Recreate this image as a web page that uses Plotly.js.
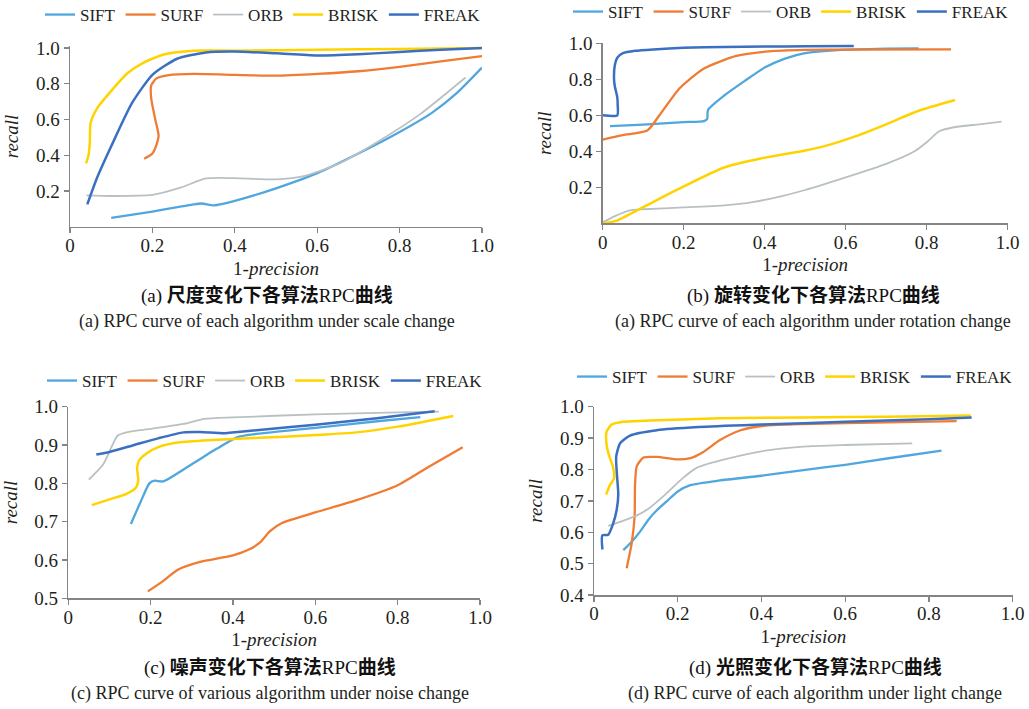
<!DOCTYPE html>
<html>
<head>
<meta charset="utf-8">
<script src="https://cdn.plot.ly/plotly-3.0.1.min.js"></script>
<style>html,body{margin:0;padding:0;background:#fff;overflow:hidden;}#chart{width:1029px;height:709px;}</style>
</head>
<body>
<div id="chart"></div>
<script>
// ---------- Data ----------
const algorithms = ['SIFT', 'SURF', 'ORB', 'BRISK', 'FREAK'];

// (a) scale change
const a_SIFT_x  = [0.10,0.20,0.30,0.32,0.35,0.40,0.50,0.60,0.70,0.80,0.88,0.94,1.00];
const a_SIFT_y  = [0.05,0.085,0.125,0.13,0.12,0.145,0.215,0.30,0.41,0.53,0.64,0.75,0.89];
const a_SURF_x  = [0.18,0.20,0.21,0.215,0.207,0.197,0.197,0.21,0.24,0.30,0.40,0.50,0.60,0.70,0.80,0.90,1.00];
const a_SURF_y  = [0.38,0.41,0.46,0.51,0.60,0.72,0.79,0.83,0.848,0.855,0.85,0.845,0.855,0.87,0.895,0.925,0.955];
const a_ORB_x   = [0.04,0.10,0.20,0.27,0.33,0.40,0.50,0.57,0.65,0.75,0.85,0.96];
const a_ORB_y   = [0.175,0.172,0.178,0.22,0.27,0.272,0.265,0.285,0.35,0.48,0.63,0.835];
const a_BRISK_x = [0.039,0.045,0.048,0.05,0.065,0.10,0.14,0.18,0.23,0.30,0.40,0.60,0.80,1.00];
const a_BRISK_y = [0.355,0.40,0.47,0.58,0.66,0.76,0.86,0.92,0.965,0.985,0.985,0.99,0.995,1.00];
const a_FREAK_x = [0.042,0.065,0.10,0.15,0.20,0.26,0.33,0.40,0.50,0.60,0.70,0.80,0.90,1.00];
const a_FREAK_y = [0.125,0.27,0.45,0.69,0.85,0.94,0.975,0.98,0.97,0.958,0.965,0.978,0.99,1.00];

// (b) rotation change
const b_SIFT_x  = [0.018,0.10,0.20,0.25,0.258,0.26,0.30,0.35,0.40,0.45,0.50,0.58,0.70,0.78];
const b_SIFT_y  = [0.54,0.548,0.562,0.568,0.58,0.63,0.71,0.79,0.865,0.915,0.945,0.962,0.97,0.972];
const b_SURF_x  = [0.00,0.05,0.11,0.14,0.19,0.25,0.33,0.41,0.50,0.60,0.86];
const b_SURF_y  = [0.465,0.49,0.515,0.60,0.75,0.86,0.93,0.955,0.963,0.965,0.966];
const b_ORB_x   = [0.00,0.03,0.067,0.10,0.20,0.30,0.37,0.44,0.50,0.60,0.70,0.77,0.80,0.83,0.87,0.93,0.985];
const b_ORB_y   = [0.005,0.04,0.072,0.078,0.088,0.10,0.118,0.15,0.185,0.255,0.33,0.40,0.45,0.51,0.535,0.55,0.565];
const b_BRISK_x = [0.00,0.035,0.10,0.20,0.30,0.39,0.50,0.55,0.62,0.70,0.78,0.87];
const b_BRISK_y = [0.00,0.015,0.09,0.205,0.31,0.36,0.405,0.43,0.48,0.55,0.625,0.685];
const b_FREAK_x = [0.00,0.036,0.037,0.036,0.03,0.028,0.03,0.036,0.05,0.08,0.125,0.20,0.30,0.40,0.50,0.62];
const b_FREAK_y = [0.60,0.60,0.66,0.70,0.76,0.80,0.88,0.92,0.945,0.958,0.966,0.975,0.98,0.982,0.983,0.985];

// (c) noise change
const c_SIFT_x  = [0.152,0.175,0.197,0.21,0.23,0.30,0.36,0.41,0.45,0.60,0.75,0.855];
const c_SIFT_y  = [0.694,0.75,0.80,0.807,0.805,0.85,0.89,0.92,0.928,0.945,0.962,0.973];
const c_SURF_x  = [0.193,0.23,0.265,0.32,0.40,0.44,0.465,0.49,0.52,0.60,0.70,0.80,0.88,0.958];
const c_SURF_y  = [0.518,0.545,0.574,0.595,0.612,0.628,0.645,0.675,0.697,0.724,0.756,0.795,0.846,0.894];
const c_ORB_x   = [0.05,0.085,0.105,0.12,0.15,0.20,0.28,0.33,0.40,0.60,0.80,0.90];
const c_ORB_y   = [0.81,0.85,0.895,0.925,0.935,0.942,0.955,0.968,0.972,0.98,0.985,0.987];
const c_BRISK_x = [0.057,0.10,0.14,0.165,0.17,0.167,0.172,0.19,0.22,0.27,0.35,0.45,0.60,0.70,0.80,0.935];
const c_BRISK_y = [0.743,0.758,0.772,0.79,0.81,0.84,0.86,0.878,0.895,0.907,0.913,0.918,0.926,0.933,0.948,0.976];
const c_FREAK_x = [0.068,0.10,0.16,0.22,0.28,0.32,0.38,0.45,0.60,0.75,0.89];
const c_FREAK_y = [0.875,0.882,0.90,0.918,0.933,0.934,0.931,0.938,0.953,0.97,0.988];

// (d) light change
const d_SIFT_x  = [0.07,0.09,0.11,0.13,0.15,0.175,0.20,0.23,0.30,0.40,0.50,0.60,0.70,0.83];
const d_SIFT_y  = [0.543,0.57,0.602,0.64,0.67,0.70,0.73,0.75,0.765,0.78,0.798,0.815,0.835,0.86];
const d_SURF_x  = [0.078,0.085,0.09,0.097,0.098,0.102,0.118,0.15,0.20,0.23,0.26,0.30,0.35,0.41,0.50,0.70,0.866];
const d_SURF_y  = [0.485,0.53,0.565,0.65,0.75,0.81,0.838,0.84,0.832,0.836,0.855,0.893,0.925,0.94,0.945,0.95,0.954];
const d_ORB_x   = [0.034,0.06,0.10,0.13,0.17,0.21,0.245,0.30,0.40,0.50,0.60,0.76];
const d_ORB_y   = [0.62,0.632,0.652,0.675,0.72,0.77,0.805,0.828,0.858,0.873,0.878,0.883];
const d_BRISK_x = [0.029,0.038,0.048,0.045,0.037,0.03,0.03,0.042,0.07,0.15,0.30,0.50,0.70,0.90];
const d_BRISK_y = [0.72,0.75,0.772,0.81,0.84,0.88,0.92,0.943,0.952,0.957,0.963,0.966,0.968,0.972];
const d_FREAK_x = [0.02,0.02,0.034,0.045,0.054,0.058,0.055,0.053,0.062,0.086,0.15,0.25,0.40,0.60,0.80,0.902];
const d_FREAK_y = [0.545,0.59,0.592,0.625,0.67,0.72,0.78,0.84,0.883,0.908,0.925,0.935,0.943,0.952,0.96,0.966];

// tick labels
const xTickVals = [0, 0.2, 0.4, 0.6, 0.8, 1.0];
const xTickText = ['0', '0.2', '0.4', '0.6', '0.8', '1.0'];
const yTickValsAB = [0.2, 0.4, 0.6, 0.8, 1.0];
const yTickTextAB = ['0.2', '0.4', '0.6', '0.8', '1.0'];
const yTickValsC = [0.5, 0.6, 0.7, 0.8, 0.9, 1.0];
const yTickTextC = ['0.5', '0.6', '0.7', '0.8', '0.9', '1.0'];
const yTickValsD = [0.4, 0.5, 0.6, 0.7, 0.8, 0.9, 1.0];
const yTickTextD = ['0.4', '0.5', '0.6', '0.7', '0.8', '0.9', '1.0'];

const captionsCN = ['(a) <b>尺度变化下各算法</b>RPC<b>曲线</b>', '(b) <b>旋转变化下各算法</b>RPC<b>曲线</b>', '(c) <b>噪声变化下各算法</b>RPC<b>曲线</b>', '(d) <b>光照变化下各算法</b>RPC<b>曲线</b>'];
const captionsEN = ['(a) RPC curve of each algorithm under scale change', '(a) RPC curve of each algorithm under rotation change', '(c) RPC curve of various algorithm under noise change', '(d) RPC curve of each algorithm under light change'];

// ---------- Styling / layout ----------
const W = 1029, H = 709;
const colors = {SIFT:'#4FA7DE', SURF:'#F07B33', ORB:'#B9C0C4', BRISK:'#FFD300', FREAK:'#3B6FC1'};
const widths = {SIFT:2.3, SURF:2.3, ORB:1.8, BRISK:2.5, FREAK:2.5};
const serif = 'Liberation Serif, Times New Roman, serif';
const txtColor = '#231f20';

const panels = [
  {xs:[a_SIFT_x,a_SURF_x,a_ORB_x,a_BRISK_x,a_FREAK_x], ys:[a_SIFT_y,a_SURF_y,a_ORB_y,a_BRISK_y,a_FREAK_y],
   px:[70,482], yr:[0,1.01], py0:226.75, pyPerUnit:178.75, ytv:yTickValsAB, ytt:yTickTextAB, legX:40, legY:15, capX:267, capY:[295,321]},
  {xs:[b_SIFT_x,b_SURF_x,b_ORB_x,b_BRISK_x,b_FREAK_x], ys:[b_SIFT_y,b_SURF_y,b_ORB_y,b_BRISK_y,b_FREAK_y],
   px:[602.7,1007.7], yr:[0,1.0], py0:223.3, pyPerUnit:180, ytv:yTickValsAB, ytt:yTickTextAB, legX:568, legY:12, capX:813, capY:[295,321]},
  {xs:[c_SIFT_x,c_SURF_x,c_ORB_x,c_BRISK_x,c_FREAK_x], ys:[c_SIFT_y,c_SURF_y,c_ORB_y,c_BRISK_y,c_FREAK_y],
   px:[68.3,480], yr:[0.5,1.0], py0:598.3, pyPerUnit:383.2, ytv:yTickValsC, ytt:yTickTextC, legX:42, legY:381, capX:270, capY:[667,693]},
  {xs:[d_SIFT_x,d_SURF_x,d_ORB_x,d_BRISK_x,d_FREAK_x], ys:[d_SIFT_y,d_SURF_y,d_ORB_y,d_BRISK_y,d_FREAK_y],
   px:[594,1012.7], yr:[0.4,1.0], py0:595, pyPerUnit:313.8, ytv:yTickValsD, ytt:yTickTextD, legX:572, legY:377, capX:815, capY:[667,693]}
];

const traces = [];
const layout = {
  width: W, height: H,
  margin: {l:0, r:0, t:0, b:0, autoexpand: false},
  paper_bgcolor: '#ffffff', plot_bgcolor: '#ffffff',
  font: {family: serif, size: 17, color: txtColor},
  showlegend: true,
  annotations: []
};

panels.forEach((p, i) => {
  const n = i + 1;
  const xa = n === 1 ? 'x' : 'x' + n;
  const ya = n === 1 ? 'y' : 'y' + n;
  const legName = n === 1 ? 'legend' : 'legend' + n;
  algorithms.forEach((alg, k) => {
    traces.push({
      type: 'scatter', mode: 'lines', name: alg,
      x: p.xs[k], y: p.ys[k],
      xaxis: xa, yaxis: ya, legend: legName,
      line: {color: colors[alg], width: widths[alg], shape: 'spline', smoothing: 0.6},
      hoverinfo: 'skip'
    });
  });
  const yLowPx = p.py0;
  const yTopPx = p.py0 - (p.yr[1] - p.yr[0]) * p.pyPerUnit;
  const axisCommon = {
    showgrid: false, zeroline: false, showline: true, linecolor: '#858585', linewidth: 1.5,
    ticks: 'outside', ticklen: 5, tickwidth: 1.3, tickcolor: '#858585',
    tickfont: {family: serif, size: 19, color: txtColor}, fixedrange: true, automargin: false
  };
  layout['xaxis' + (n === 1 ? '' : n)] = Object.assign({}, axisCommon, {
    domain: [p.px[0] / W, p.px[1] / W], range: [0, 1], anchor: ya,
    tickmode: 'array', tickvals: xTickVals, ticktext: xTickText, ticklabelstandoff: -4,
    title: {text: '1-<i>precision</i>', font: {family: serif, size: 19, color: txtColor}, standoff: 6}
  });
  layout['yaxis' + (n === 1 ? '' : n)] = Object.assign({}, axisCommon, {
    domain: [1 - yLowPx / H, 1 - yTopPx / H], range: p.yr, anchor: xa,
    tickmode: 'array', tickvals: p.ytv, ticktext: p.ytt,
    title: {text: '<i>recall</i>', font: {family: serif, size: 19, color: txtColor}, standoff: 12}
  });
  layout[legName] = {
    orientation: 'h', x: p.legX / W, y: 1 - p.legY / H, xanchor: 'left', yanchor: 'middle',
    xref: 'paper', yref: 'paper',
    bgcolor: 'rgba(0,0,0,0)', borderwidth: 0,
    font: {family: serif, size: 17, color: txtColor},
    itemclick: false, itemdoubleclick: false, tracegroupgap: 0
  };
  layout.annotations.push({
    xref: 'paper', yref: 'paper', x: p.capX / W, y: 1 - p.capY[0] / H,
    xanchor: 'center', yanchor: 'middle', showarrow: false,
    text: captionsCN[i], font: {family: 'Liberation Serif, Noto Sans CJK SC', size: 19, color: '#111'}
  });
  layout.annotations.push({
    xref: 'paper', yref: 'paper', x: p.capX / W, y: 1 - p.capY[1] / H,
    xanchor: 'center', yanchor: 'middle', showarrow: false,
    text: captionsEN[i], font: {family: serif, size: 18, color: txtColor}
  });
});

Plotly.newPlot('chart', traces, layout, {displayModeBar: false, staticPlot: true});
</script>
</body>
</html>
